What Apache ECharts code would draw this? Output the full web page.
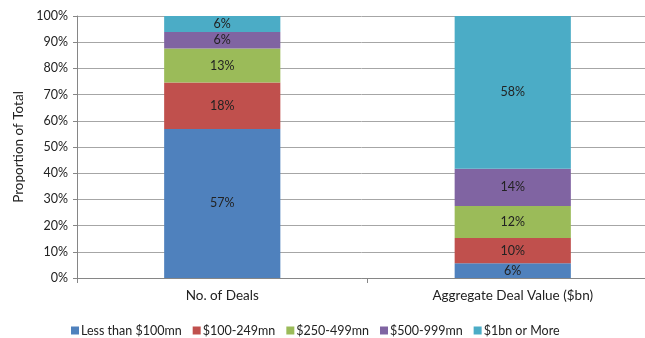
<!DOCTYPE html>
<html><head><meta charset="utf-8">
<script src="https://cdn.jsdelivr.net/npm/echarts@6/dist/echarts.min.js"></script>
<style>html,body{margin:0;padding:0;background:#fff}#c{width:645px;height:338px}</style>
</head><body><div id="c"></div>
<script>
const categories = ['No. of Deals', 'Aggregate Deal Value ($bn)'];
const seriesNames = ['Less than $100mn', '$100-249mn', '$250-499mn', '$500-999mn', '$1bn or More'];
const lessThan100 = [56.9, 5.6];
const s100to249 = [17.7, 9.7];
const s250to499 = [13.0, 12.2];
const s500to999 = [6.3, 14.2];
const s1bnPlus = [6.1, 58.3];
const colors = ['#4F81BD', '#C0504D', '#9BBB59', '#8064A2', '#4BACC6'];
const allData = [lessThan100, s100to249, s250to499, s500to999, s1bnPlus];
const font = 'Lato';
const chart = echarts.init(document.getElementById('c'));
chart.setOption({
  animation: false,
  textStyle: {fontFamily: font},
  grid: {left: 77, width: 581, top: 16, height: 262, containLabel: false, outerBoundsMode: 'none'},
  legend: {
    top: 319, left: 66, itemWidth: 8, itemHeight: 8, itemGap: 11,
    icon: 'rect',
    textStyle: {fontFamily: font, fontSize: 12.5, color: '#222', padding: [0, 0, 0, -3]},
    data: seriesNames
  },
  xAxis: {
    type: 'category', data: categories,
    axisLine: {lineStyle: {color: '#868686'}},
    axisTick: {show: true, length: 5, lineStyle: {color: '#868686'}},
    axisLabel: {fontFamily: font, fontSize: 13.5, color: '#222', margin: 11}
  },
  yAxis: {
    type: 'value', min: 0, max: 100, interval: 10,
    name: 'Proportion of Total', nameLocation: 'middle', nameGap: 46, nameRotate: 90,
    nameTextStyle: {fontFamily: font, fontSize: 13.5, color: '#222'},
    axisLine: {show: true, lineStyle: {color: '#868686'}},
    axisTick: {show: true, length: 4, lineStyle: {color: '#868686'}},
    axisLabel: {fontFamily: font, fontSize: 12.5, color: '#222', margin: 9, formatter: v => v + '%'},
    splitLine: {lineStyle: {color: '#A6A6A6', width: 1}}
  },
  series: seriesNames.map((n, i) => ({
    name: n, type: 'bar', stack: 'total', data: allData[i], barWidth: '40%',
    itemStyle: {color: colors[i]},
    label: {show: true, position: 'inside', fontFamily: font, fontSize: 12.5, color: '#222',
      formatter: p => Math.round(p.value) + '%'}
  }))
});
</script></body></html>
